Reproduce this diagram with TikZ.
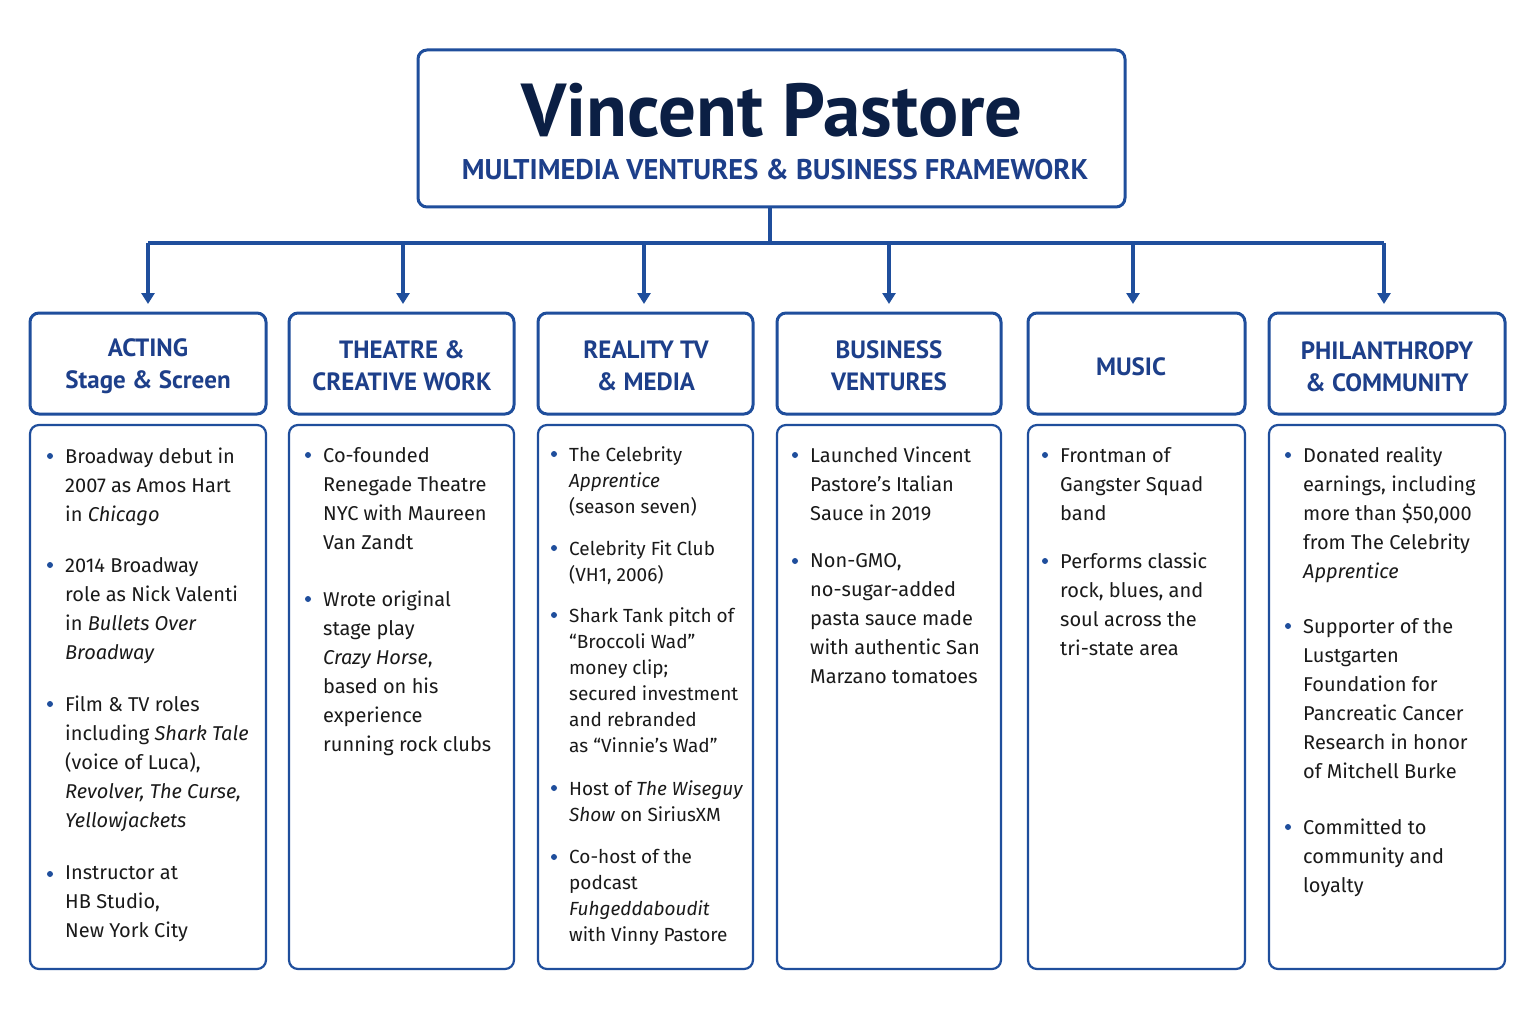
\documentclass[tikz,border=0pt]{standalone}
\usepackage{fontspec}
\setmainfont{Fira Sans}
\newfontfamily\hdf{PT Sans}
\usetikzlibrary{arrows.meta}
\definecolor{bord}{HTML}{1F4E9C}
\definecolor{navy}{HTML}{0B1F44}
\definecolor{hblue}{HTML}{1D3F8A}
\definecolor{txt}{HTML}{1A1A1A}
\tikzset{
 box/.style={draw=bord,line width=3pt,rounded corners=9pt,fill=white},
 cbox/.style={draw=bord,line width=2.2pt,rounded corners=9pt,fill=white},
 hdr/.style={font=\hdf\bfseries\fontsize{25}{32}\selectfont,text=hblue,align=center},
 bt/.style={anchor=north west,inner sep=0pt,align=left,text=txt,font=\fontsize{20}{29}\selectfont},
 btc/.style={bt,font=\fontsize{19}{26}\selectfont},
 dot/.style={circle,fill=bord,inner sep=0pt,minimum size=6pt},
 arr/.style={draw=bord,line width=3.2pt,-{Triangle[length=11pt,width=13pt]}},
 ln/.style={draw=bord,line width=3.2pt}
}
\newcommand{\bul}[5][bt]{\node[dot] at (#2,#3) {};\node[#1] at (#2+15,#3-8) {#4#5};}
\begin{document}
\begin{tikzpicture}[x=1pt,y=-1pt]
\useasboundingbox[fill=white] (0,0) rectangle (1536,1019);
\draw[box] (418,50) rectangle (1125,207);
\node[font=\hdf\bfseries\fontsize{75}{75}\selectfont,text=navy] (title) at (772,110) {Vincent Pastore};
\node[font=\hdf\bfseries\fontsize{28.5}{28}\selectfont,text=hblue] (sub) at (775,170) {MULTIMEDIA VENTURES \& BUSINESS FRAMEWORK};
\coordinate (top) at (770,207);
\coordinate (mid) at (770,243);
\draw[ln] (top) -- (mid);
\draw[ln] (148,243) -- (1384,243);
\foreach \x/\l/\r/\n in {148/30/266/a,403/289/514/b,644/538/753/c,889/777/1001/d,1133/1028/1245/e,1384/1269/1505/f}{
  \coordinate (s\n) at (\x,243);
  \coordinate (t\n) at (\x,304);
  \draw[arr] (s\n) -- (t\n);
  \draw[box] (\l,313) rectangle (\r,414);
  \draw[cbox] (\l,425) rectangle (\r,969);
}
\node[hdr] (ha) at (148,366) {ACTING\\Stage \& Screen};
\node[hdr] (hb) at (402,366) {THEATRE \&\\CREATIVE WORK};
\node[hdr] (hc) at (646,366) {REALITY TV\\\& MEDIA};
\node[hdr] (hd) at (889,366) {BUSINESS\\VENTURES};
\node[hdr] (he) at (1131,367) {MUSIC};
\node[hdr] (hf) at (1387,367) {PHILANTHROPY\\\& COMMUNITY};
% col 1
\bul{50}{456}{}{Broadway debut in\\2007 as Amos Hart\\in \textit{Chicago}}
\bul{50}{565}{}{2014 Broadway\\role as Nick Valenti\\in \textit{Bullets Over}\\\textit{Broadway}}
\bul{50}{704}{}{Film \& TV roles\\including \textit{Shark Tale}\\(voice of Luca),\\\textit{Revolver, The Curse,}\\\textit{Yellowjackets}}
\bul{50}{874}{}{Instructor at\\HB Studio,\\New York City}
% col 2
\bul{308}{455}{}{Co-founded\\Renegade Theatre\\NYC with Maureen\\Van Zandt}
\bul{308}{599}{}{Wrote original\\stage play\\\textit{Crazy Horse},\\based on his\\experience\\running rock clubs}
% col 3
\bul[btc]{554}{454}{}{The Celebrity\\\textit{Apprentice}\\(season seven)}
\bul[btc]{554}{548}{}{Celebrity Fit Club\\(VH1, 2006)}
\bul[btc]{554}{615}{}{Shark Tank pitch of\\“Broccoli Wad”\\money clip;\\secured investment\\and rebranded\\as “Vinnie’s Wad”}
\bul[btc]{554}{788}{}{Host of \textit{The Wiseguy}\\\textit{Show} on SiriusXM}
\bul[btc]{554}{857}{}{Co-host of the\\podcast\\\textit{Fuhgeddaboudit}\\with Vinny Pastore}
% col 4
\bul{795}{455}{}{Launched Vincent\\Pastore’s Italian\\Sauce in 2019}
\bul{795}{561}{}{Non-GMO,\\no-sugar-added\\pasta sauce made\\with authentic San\\Marzano tomatoes}
% col 5
\bul{1045}{455}{}{Frontman of\\Gangster Squad\\band}
\bul{1045}{561}{}{Performs classic\\rock, blues, and\\soul across the\\tri-state area}
% col 6
\bul{1288}{455}{}{Donated reality\\earnings, including\\more than \$50,000\\from The Celebrity\\\textit{Apprentice}}
\bul{1288}{626}{}{Supporter of the\\Lustgarten\\Foundation for\\Pancreatic Cancer\\Research in honor\\of Mitchell Burke}
\bul{1288}{827}{}{Committed to\\community and\\loyalty}
\end{tikzpicture}
\end{document}
